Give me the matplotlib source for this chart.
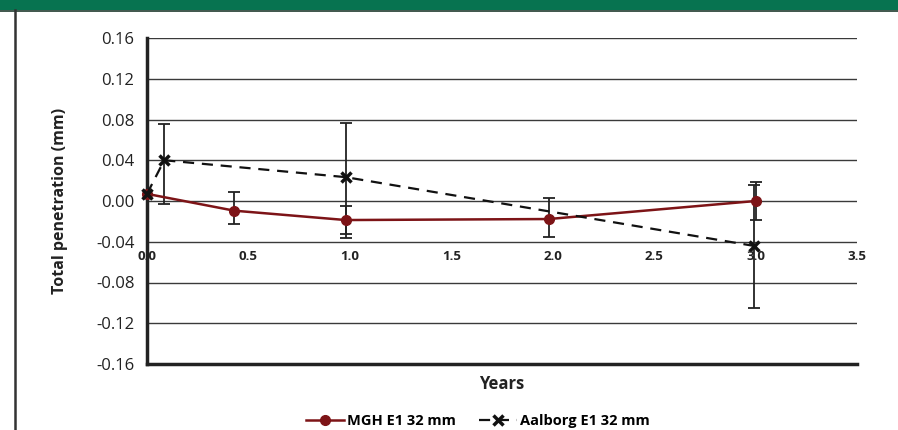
import matplotlib
matplotlib.use("Agg")
import matplotlib.pyplot as plt
from matplotlib.patches import Rectangle
from matplotlib.lines import Line2D
import matplotlib.transforms as mtransforms

# =========================
# Data
# =========================
mgh_x = [0.0, 0.43, 0.98, 1.98, 3.0]
mgh_y = [0.007, -0.0095, -0.0187, -0.0177, 0.0]
mgh_err_lo = [0.0, 0.013, 0.014, 0.018, 0.019]
mgh_err_hi = [0.0, 0.018, 0.014, 0.021, 0.019]

aal_x = [0.0, 0.085, 0.98, 2.99]
aal_y = [0.007, 0.040, 0.0234, -0.044]
aal_err_lo = [0.0, 0.043, 0.060, 0.061]
aal_err_hi = [0.0, 0.036, 0.053, 0.060]

y_ticks = [-0.16, -0.12, -0.08, -0.04, 0.00, 0.04, 0.08, 0.12, 0.16]
x_ticks = [0.0, 0.5, 1.0, 1.5, 2.0, 2.5, 3.0, 3.5]

RED = "#7d1417"
GRID = "#3a3a3a"
FONT = ["Open Sans", "DejaVu Sans"]
plt.rcParams["font.family"] = FONT

# =========================
# Figure / axes
# =========================
W, H = 898, 430
fig = plt.figure(figsize=(W / 100, H / 100), dpi=100)
ax = fig.add_axes([147 / W, 1 - 364 / H, (857 - 147) / W, (364 - 38) / H])

# green header band + frame line on the left
fig.patches.append(Rectangle((0, 1 - 10 / H), 1, 10 / H, transform=fig.transFigure,
                             facecolor="#077350", edgecolor="none", zorder=0))
fig.lines.append(Line2D([0, 1], [1 - 10.5 / H, 1 - 10.5 / H], transform=fig.transFigure,
                        color="#1f3a2e", linewidth=1.2))
fig.lines.append(Line2D([14.5 / W, 14.5 / W], [0, 1 - 10 / H], transform=fig.transFigure,
                        color="#333333", linewidth=1.8))

# gridlines
for yv in y_ticks[1:]:
    ax.axhline(yv, color=GRID, linewidth=1.0, zorder=1)

# series
ax.errorbar(mgh_x, mgh_y, yerr=[mgh_err_lo, mgh_err_hi], fmt="none",
            ecolor="#222222", elinewidth=1.3, capsize=4, capthick=1.3, zorder=3)
ax.errorbar(aal_x, aal_y, yerr=[aal_err_lo, aal_err_hi], fmt="none",
            ecolor="#222222", elinewidth=1.3, capsize=4, capthick=1.3, zorder=3)
ax.plot(mgh_x, mgh_y, color=RED, linewidth=1.8, marker="o", markersize=7,
        markeredgecolor=RED, zorder=4, label="MGH E1 32 mm", clip_on=False)
ax.plot(aal_x, aal_y, color="#111111", linewidth=1.6, dashes=(5, 3.5), marker="x",
        markersize=7, markeredgewidth=2.5, zorder=5, label="Aalborg E1 32 mm",
        clip_on=False)

ax.set_xlim(0, 3.5)
ax.set_ylim(-0.16, 0.16)
ax.set_yticks(y_ticks)
ax.set_yticklabels([f"{v:.2f}" for v in y_ticks], fontsize=12, color="#222222")
ax.tick_params(axis="y", length=0, pad=9)
ax.set_xticks([])

for s in ["top", "right"]:
    ax.spines[s].set_visible(False)
for s in ["left", "bottom"]:
    ax.spines[s].set_linewidth(2.5)
    ax.spines[s].set_color("#222222")

# x tick labels sit under the -0.04 gridline
off = mtransforms.offset_copy(ax.transData, fig=fig, x=0, y=-8, units="dots")
for xv in x_ticks:
    ax.text(xv, -0.04, f"{xv:.1f}", transform=off, ha="center", va="top",
            fontsize=9.5, fontweight="bold", color="#222222", zorder=6)

ax.set_ylabel("Total penetration (mm)", fontsize=11.5, fontweight="bold",
              color="#222222", labelpad=20)
ax.set_xlabel("Years", fontsize=12, fontweight="bold", color="#222222", labelpad=8)

fig.legend(loc="lower center", bbox_to_anchor=(478 / W, -0.025), ncol=2, frameon=False,
           prop={"weight": "bold", "size": 10.5}, handlelength=2.6, columnspacing=1.6,
           handletextpad=0.2)

fig.savefig("out.png", dpi=100, facecolor="white")
